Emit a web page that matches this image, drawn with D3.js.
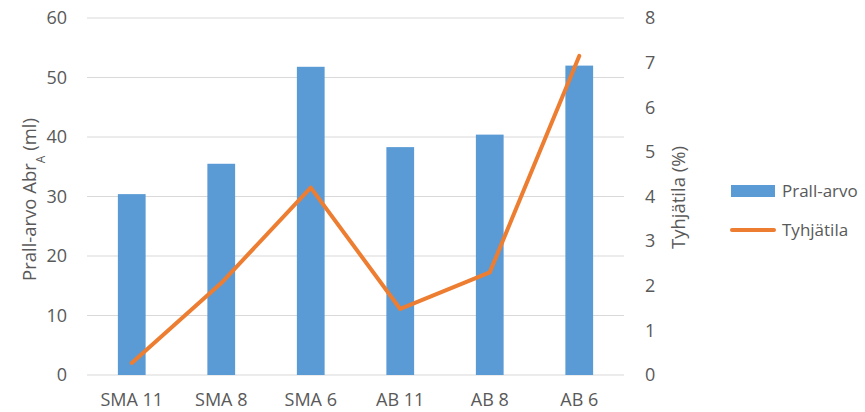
<!DOCTYPE html>
<html>
<head>
<meta charset="utf-8">
<script src="https://cdn.jsdelivr.net/npm/d3@7"></script>
<style>
  html, body { margin: 0; padding: 0; background: #fff; }
  svg { display: block; font-family: "Open Sans", "Liberation Sans", sans-serif; }
</style>
</head>
<body>
<svg id="chart" width="865" height="412"></svg>
<script>
// Categories and series
const categories = ["SMA 11", "SMA 8", "SMA 6", "AB 11", "AB 8", "AB 6"];
const prallValues = [30.4, 35.5, 51.8, 38.3, 40.4, 52.0];
const voidValues = [0.27, 2.06, 4.2, 1.48, 2.3, 7.15];
const leftTicks = [0, 10, 20, 30, 40, 50, 60];
const rightTicks = [0, 1, 2, 3, 4, 5, 6, 7, 8];

const svg = d3.select("#chart");
const plot = { left: 87, right: 624, top: 18, bottom: 375 };
const textColor = "#595959";
const tickFont = "18px";

const x = d3.scaleBand().domain(categories).range([plot.left, plot.right]).padding(0);
const yL = d3.scaleLinear().domain([0, 60]).range([plot.bottom, plot.top]);
const yR = d3.scaleLinear().domain([0, 8]).range([plot.bottom, plot.top]);

// Gridlines
svg.append("g")
  .selectAll("line")
  .data(leftTicks)
  .join("line")
  .attr("x1", plot.left).attr("x2", plot.right)
  .attr("y1", d => yL(d)).attr("y2", d => yL(d))
  .attr("stroke", "#d9d9d9").attr("stroke-width", 1);

// Bars
const barW = x.bandwidth() * 0.31;
svg.append("g")
  .selectAll("rect")
  .data(prallValues)
  .join("rect")
  .attr("x", (d, i) => x(categories[i]) + (x.bandwidth() - barW) / 2)
  .attr("y", d => yL(d))
  .attr("width", barW)
  .attr("height", d => yL(0) - yL(d))
  .attr("fill", "#5b9bd5");

// Line
const line = d3.line()
  .x((d, i) => x(categories[i]) + x.bandwidth() / 2)
  .y(d => yR(d));
svg.append("path")
  .datum(voidValues)
  .attr("d", line)
  .attr("fill", "none")
  .attr("stroke", "#ed7d31")
  .attr("stroke-width", 4)
  .attr("stroke-linecap", "round")
  .attr("stroke-linejoin", "round");

// Left axis
const leftAxis = d3.axisLeft(yL).tickValues(leftTicks).tickSize(0).tickPadding(20);
const gL = svg.append("g").attr("transform", `translate(${plot.left},0)`).call(leftAxis);
gL.select(".domain").remove();
gL.selectAll("text").attr("fill", textColor).style("font-size", tickFont)
  .attr("font-family", "'Open Sans', sans-serif");

// Right axis
const rightAxis = d3.axisRight(yR).tickValues(rightTicks).tickSize(0).tickPadding(21);
const gR = svg.append("g").attr("transform", `translate(${plot.right},0)`).call(rightAxis);
gR.select(".domain").remove();
gR.selectAll("text").attr("fill", textColor).style("font-size", tickFont)
  .attr("font-family", "'Open Sans', sans-serif");

// Bottom axis
const bottomAxis = d3.axisBottom(x).tickSize(0).tickPadding(18);
const gB = svg.append("g").attr("transform", `translate(0,${plot.bottom})`).call(bottomAxis);
gB.select(".domain").remove();
gB.selectAll("text").attr("fill", textColor).style("font-size", tickFont)
  .attr("font-family", "'Open Sans', sans-serif");

// Axis titles
const leftTitle = svg.append("text")
  .attr("transform", `translate(36,${(plot.top + plot.bottom) / 2 + 3}) rotate(-90)`)
  .attr("text-anchor", "middle")
  .attr("fill", textColor)
  .style("font-size", "18.5px");
leftTitle.append("tspan").text("Prall-arvo Abr");
leftTitle.append("tspan").attr("baseline-shift", "sub").style("font-size", "12px").text("A");
leftTitle.append("tspan").text(" (ml)");

svg.append("text")
  .attr("transform", `translate(685,${(plot.top + plot.bottom) / 2 + 1}) rotate(-90)`)
  .attr("text-anchor", "middle")
  .attr("fill", textColor)
  .style("font-size", "18.5px")
  .text("Tyhjätila (%)");

// Legend
const legend = svg.append("g").attr("transform", "translate(731,185)");
legend.append("rect").attr("x", 0).attr("y", 0).attr("width", 44).attr("height", 12).attr("fill", "#5b9bd5");
legend.append("text").attr("x", 51).attr("y", 12).attr("fill", textColor).style("font-size", "17px").text("Prall-arvo");
legend.append("line").attr("x1", 1).attr("x2", 43).attr("y1", 45).attr("y2", 45)
  .attr("stroke", "#ed7d31").attr("stroke-width", 4).attr("stroke-linecap", "round");
legend.append("text").attr("x", 51).attr("y", 51).attr("fill", textColor).style("font-size", "17px").text("Tyhjätila");
</script>
</body>
</html>
